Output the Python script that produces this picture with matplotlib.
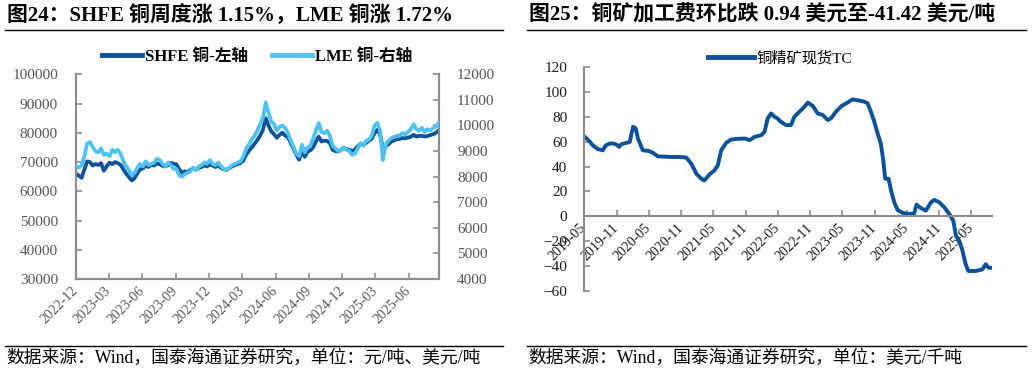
"""Copper prices (SHFE / LME) and copper concentrate spot TC, two panels."""

import matplotlib
matplotlib.use("Agg")
import matplotlib.dates as mdates
import matplotlib.pyplot as plt
from matplotlib.lines import Line2D
import pandas as pd

plt.rcParams["font.family"] = ["Liberation Serif", "Noto Sans CJK SC", "DejaVu Sans"]

# ---- left panel: weekly closes, Dec 2022 .. Aug 2025 --------------------
shfe_copper = [
    66000, 65300, 64600, 67500,  70200, 70000, 68800, 69300,
    69000, 69600, 67000, 68500,  69800, 69300, 70000, 69600,
    69000, 67500, 66000, 64800,  63700, 64500, 66200, 67500,
    67800, 68800, 68300, 69000,  68800, 69500, 69200, 68700,
    68500, 69000, 69700, 69400,  69200, 67500, 66300, 66800,
    66500, 67300, 67800, 67500,  68000, 68300, 68800, 68500,
    69200, 68800, 68300, 68700,  68000, 67500, 67300, 68000,
    68500, 69000, 69300, 69700,  70500, 72500, 73800, 75000,
    76200, 77500, 79000, 81000,  85000, 82500, 80500, 79500,
    78300, 79300, 80000, 79000,  78500, 76500, 74500, 72500,
    70800, 73800, 71800, 73500,  74000, 75000, 77000, 78700,
    77000, 77300, 77200, 76500,  74200, 73700, 73600, 74200,
    74800, 74400, 74200, 73700,  74300, 75300, 76300, 76000,
    76500, 77300, 78000, 79800,  81000, 79500, 74500, 75500,
    76000, 77000, 77400, 77800,  77900, 78200, 78100, 78400,
    78600, 79300, 78700, 78900,  79000, 78700, 78900, 79200,
    79500, 80000, 80800,
]
lme_copper = [
    8400, 8350, 8450, 8800,  9300, 9350, 9150, 9000,
    8950, 9100, 8850, 8900,  8800, 9050, 8950, 9050,
    8900, 8600, 8400, 8250,  8050, 8150, 8350, 8500,
    8400, 8600, 8450, 8500,  8550, 8700, 8650, 8500,
    8400, 8550, 8450, 8300,  8300, 8050, 8000, 8100,
    8150, 8200, 8350, 8250,  8400, 8450, 8550, 8500,
    8650, 8500, 8450, 8550,  8400, 8300, 8250, 8350,
    8450, 8500, 8550, 8600,  8800, 9100, 9250, 9450,
    9600, 9800, 10050, 10300,  10900, 10500, 10150, 10050,
    9800, 9950, 10000, 9900,  9700, 9400, 9150, 8900,
    8800, 9250, 8950, 9150,  9200, 9500, 9800, 10100,
    9750, 9700, 9800, 9600,  9200, 9100, 9000, 9050,
    9150, 9050, 9000, 8850,  8900, 9100, 9300, 9200,
    9400, 9450, 9600, 10000,  10100, 9800, 8650, 9250,
    9400, 9500, 9550, 9600,  9600, 9700, 9650, 9750,
    9850, 10050, 9850, 9800,  9900, 9750, 9850, 9800,
    9900, 9950, 10100,
]

# ---- right panel: spot TC, USD/t -----------------------------------------
tc_dates = [
    "2019-05-01", "2019-05-23", "2019-06-20", "2019-07-19", "2019-08-16",
    "2019-09-01", "2019-09-23", "2019-10-12", "2019-11-01", "2019-11-16",
    "2019-11-29", "2019-12-27", "2020-01-15", "2020-01-24", "2020-02-03",
    "2020-02-18", "2020-03-01", "2020-03-29", "2020-05-01", "2020-05-25",
    "2020-06-22", "2020-07-21", "2020-08-28", "2020-10-23", "2020-11-30",
    "2020-12-28", "2021-01-26", "2021-02-23", "2021-03-12", "2021-04-10",
    "2021-05-08", "2021-05-27", "2021-06-15", "2021-07-13", "2021-08-10",
    "2021-09-17", "2021-10-29", "2021-11-23", "2021-12-21", "2022-01-28",
    "2022-02-15", "2022-03-05", "2022-03-24", "2022-04-12", "2022-04-29",
    "2022-05-19", "2022-06-17", "2022-07-15", "2022-08-03", "2022-09-01",
    "2022-09-29", "2022-10-18", "2022-11-15", "2022-12-13", "2023-01-11",
    "2023-02-08", "2023-02-26", "2023-03-26", "2023-04-27", "2023-05-31",
    "2023-06-28", "2023-08-05", "2023-09-02", "2023-09-21", "2023-10-10",
    "2023-10-29", "2023-11-17", "2023-12-05", "2023-12-19", "2023-12-30",
    "2024-01-18", "2024-02-01", "2024-02-19", "2024-03-09", "2024-04-06",
    "2024-05-13", "2024-06-11", "2024-06-24", "2024-07-18", "2024-08-16",
    "2024-09-14", "2024-10-02", "2024-10-31", "2024-11-28", "2024-12-26",
    "2025-01-18", "2025-02-02", "2025-02-21", "2025-03-10", "2025-03-29",
    "2025-04-13", "2025-05-25", "2025-07-02", "2025-07-20", "2025-08-05",
    "2025-08-24",
]
tc_values = [
    64.4, 61.7, 57.0, 54.0, 53.0,
    57.0, 58.5, 58.5, 57.7, 55.8,
    58.0, 59.0, 59.8, 66.0, 72.0,
    70.6, 62.5, 53.0, 52.6, 51.0,
    48.2, 48.0, 47.7, 47.7, 47.2,
    42.3, 34.2, 30.2, 28.8, 33.7,
    36.9, 41.0, 53.0, 59.0, 61.7,
    62.3, 62.5, 61.2, 63.9, 65.2,
    67.9, 78.7, 82.7, 80.0, 78.7,
    76.0, 73.3, 73.3, 80.0, 84.1,
    88.1, 91.4, 88.7, 82.7, 81.4,
    77.4, 78.7, 84.1, 88.7, 91.4,
    94.0, 93.0, 92.2, 90.8, 84.1,
    76.0, 66.6, 58.5, 45.0, 30.2,
    30.2, 20.8, 11.3, 5.1, 2.7,
    1.9, 2.4, 9.4, 6.7, 4.6,
    11.3, 13.2, 11.3, 7.3, 1.9,
    -3.5, -15.6, -19.7, -27.2, -38.5,
    -43.9, -43.9, -42.6, -38.5, -41.2,
    -41.42,
]

DARK_BLUE = "#0A519B"
LIGHT_BLUE = "#4EC3F2"
SPINE = "#8C8C8C"
TICK_TXT = "#555555"

fig = plt.figure(figsize=(10.32, 3.73), dpi=100)


def px_x(x):
    return x / 1032


def px_y(y):
    return 1 - y / 373


# titles, rules and footers for both panels
for x0, x1, title, foot in [
    (5, 503, "图24：SHFE 铜周度涨 1.15%，LME 铜涨 1.72%",
     "数据来源：Wind，国泰海通证券研究，单位：元/吨、美元/吨"),
    (527, 1026, "图25：铜矿加工费环比跌 0.94 美元至-41.42 美元/吨",
     "数据来源：Wind，国泰海通证券研究，单位：美元/千吨"),
]:
    fig.text(px_x(x0 + 2), px_y(15.5), title, fontsize=15, fontweight="bold",
             va="center", ha="left")
    fig.add_artist(Line2D([px_x(x0), px_x(x1)], [px_y(30), px_y(30)],
                          color="black", lw=1.0))
    fig.add_artist(Line2D([px_x(x0), px_x(x1)], [px_y(346), px_y(346)],
                          color="black", lw=1.0))
    fig.text(px_x(x0 + 1), px_y(358), foot, fontsize=12.8, va="center", ha="left")


def style_spines(ax, keep):
    for name, sp in ax.spines.items():
        sp.set_visible(name in keep)
        sp.set_color(SPINE)
        sp.set_linewidth(1.5)


def rotate_dates(ax):
    for lab in ax.get_xticklabels():
        lab.set_rotation(45)
        lab.set_ha("right")
        lab.set_va("center")
        lab.set_rotation_mode("anchor")
        lab.set_fontsize(10)
    ax.tick_params(axis="x", pad=7)


# ---- left panel ----------------------------------------------------------
week_dates = pd.date_range("2022-12-01", "2025-08-22", periods=len(shfe_copper))

ax1 = fig.add_axes([px_x(76), px_y(279), px_x(439 - 76), (279 - 74.3) / 373])
ax2 = ax1.twinx()
ax1.plot(week_dates, shfe_copper, color=DARK_BLUE, lw=2.7, zorder=2)
ax2.plot(week_dates, lme_copper, color=LIGHT_BLUE, lw=2.7, zorder=3)

ax1.set_ylim(30000, 100000)
ax1.set_yticks(range(30000, 100001, 10000))
ax2.set_ylim(4000, 12000)
ax2.set_yticks(range(4000, 12001, 1000))
ax1.set_xlim(pd.Timestamp("2022-12-01"), pd.Timestamp("2025-08-23"))
ax1.xaxis.set_major_locator(mdates.MonthLocator(bymonth=[3, 6, 9, 12]))
ax1.xaxis.set_major_formatter(mdates.DateFormatter("%Y-%m"))

style_spines(ax1, {"left", "bottom", "right"})
style_spines(ax2, {"left", "bottom", "right"})
for ax in (ax1, ax2):
    ax.tick_params(direction="in", length=4, width=1.2, color=SPINE,
                   labelsize=11, labelcolor=TICK_TXT, pad=13)
rotate_dates(ax1)

handles = [Line2D([], [], color=DARK_BLUE, lw=3.5), Line2D([], [], color=LIGHT_BLUE, lw=3.5)]
fig.legend(handles, ["SHFE 铜-左轴", "LME 铜-右轴"], loc="center",
           bbox_to_anchor=(px_x(257), px_y(57)), ncol=2, frameon=False,
           prop={"size": 12, "weight": "bold"}, handlelength=2.4,
           handletextpad=0.2, columnspacing=1.4)

# ---- right panel ---------------------------------------------------------
ax3 = fig.add_axes([px_x(584), px_y(291), px_x(992 - 584), (291 - 67) / 373])
ax3.plot(pd.to_datetime(tc_dates), tc_values, color=DARK_BLUE, lw=2.8)
ax3.set_ylim(-60, 120)
ax3.set_yticks(range(-60, 121, 20))
ax3.set_xlim(pd.Timestamp("2019-05-01"), pd.Timestamp("2025-08-25"))
ax3.xaxis.set_major_locator(mdates.MonthLocator(bymonth=[5, 11]))
ax3.xaxis.set_major_formatter(mdates.DateFormatter("%Y-%m"))
style_spines(ax3, {"left", "bottom"})
ax3.spines["bottom"].set_position(("data", 0))
ax3.tick_params(direction="in", length=4, width=1.2, color=SPINE,
                labelsize=11, labelcolor="#1A1A1A", pad=12)
rotate_dates(ax3)

fig.legend([Line2D([], [], color=DARK_BLUE, lw=3.5)], ["铜精矿现货TC"], loc="center",
           bbox_to_anchor=(px_x(780), px_y(58)), frameon=False,
           prop={"size": 11}, handlelength=3.0, handletextpad=0.2)

fig.savefig("out.png", dpi=100)
